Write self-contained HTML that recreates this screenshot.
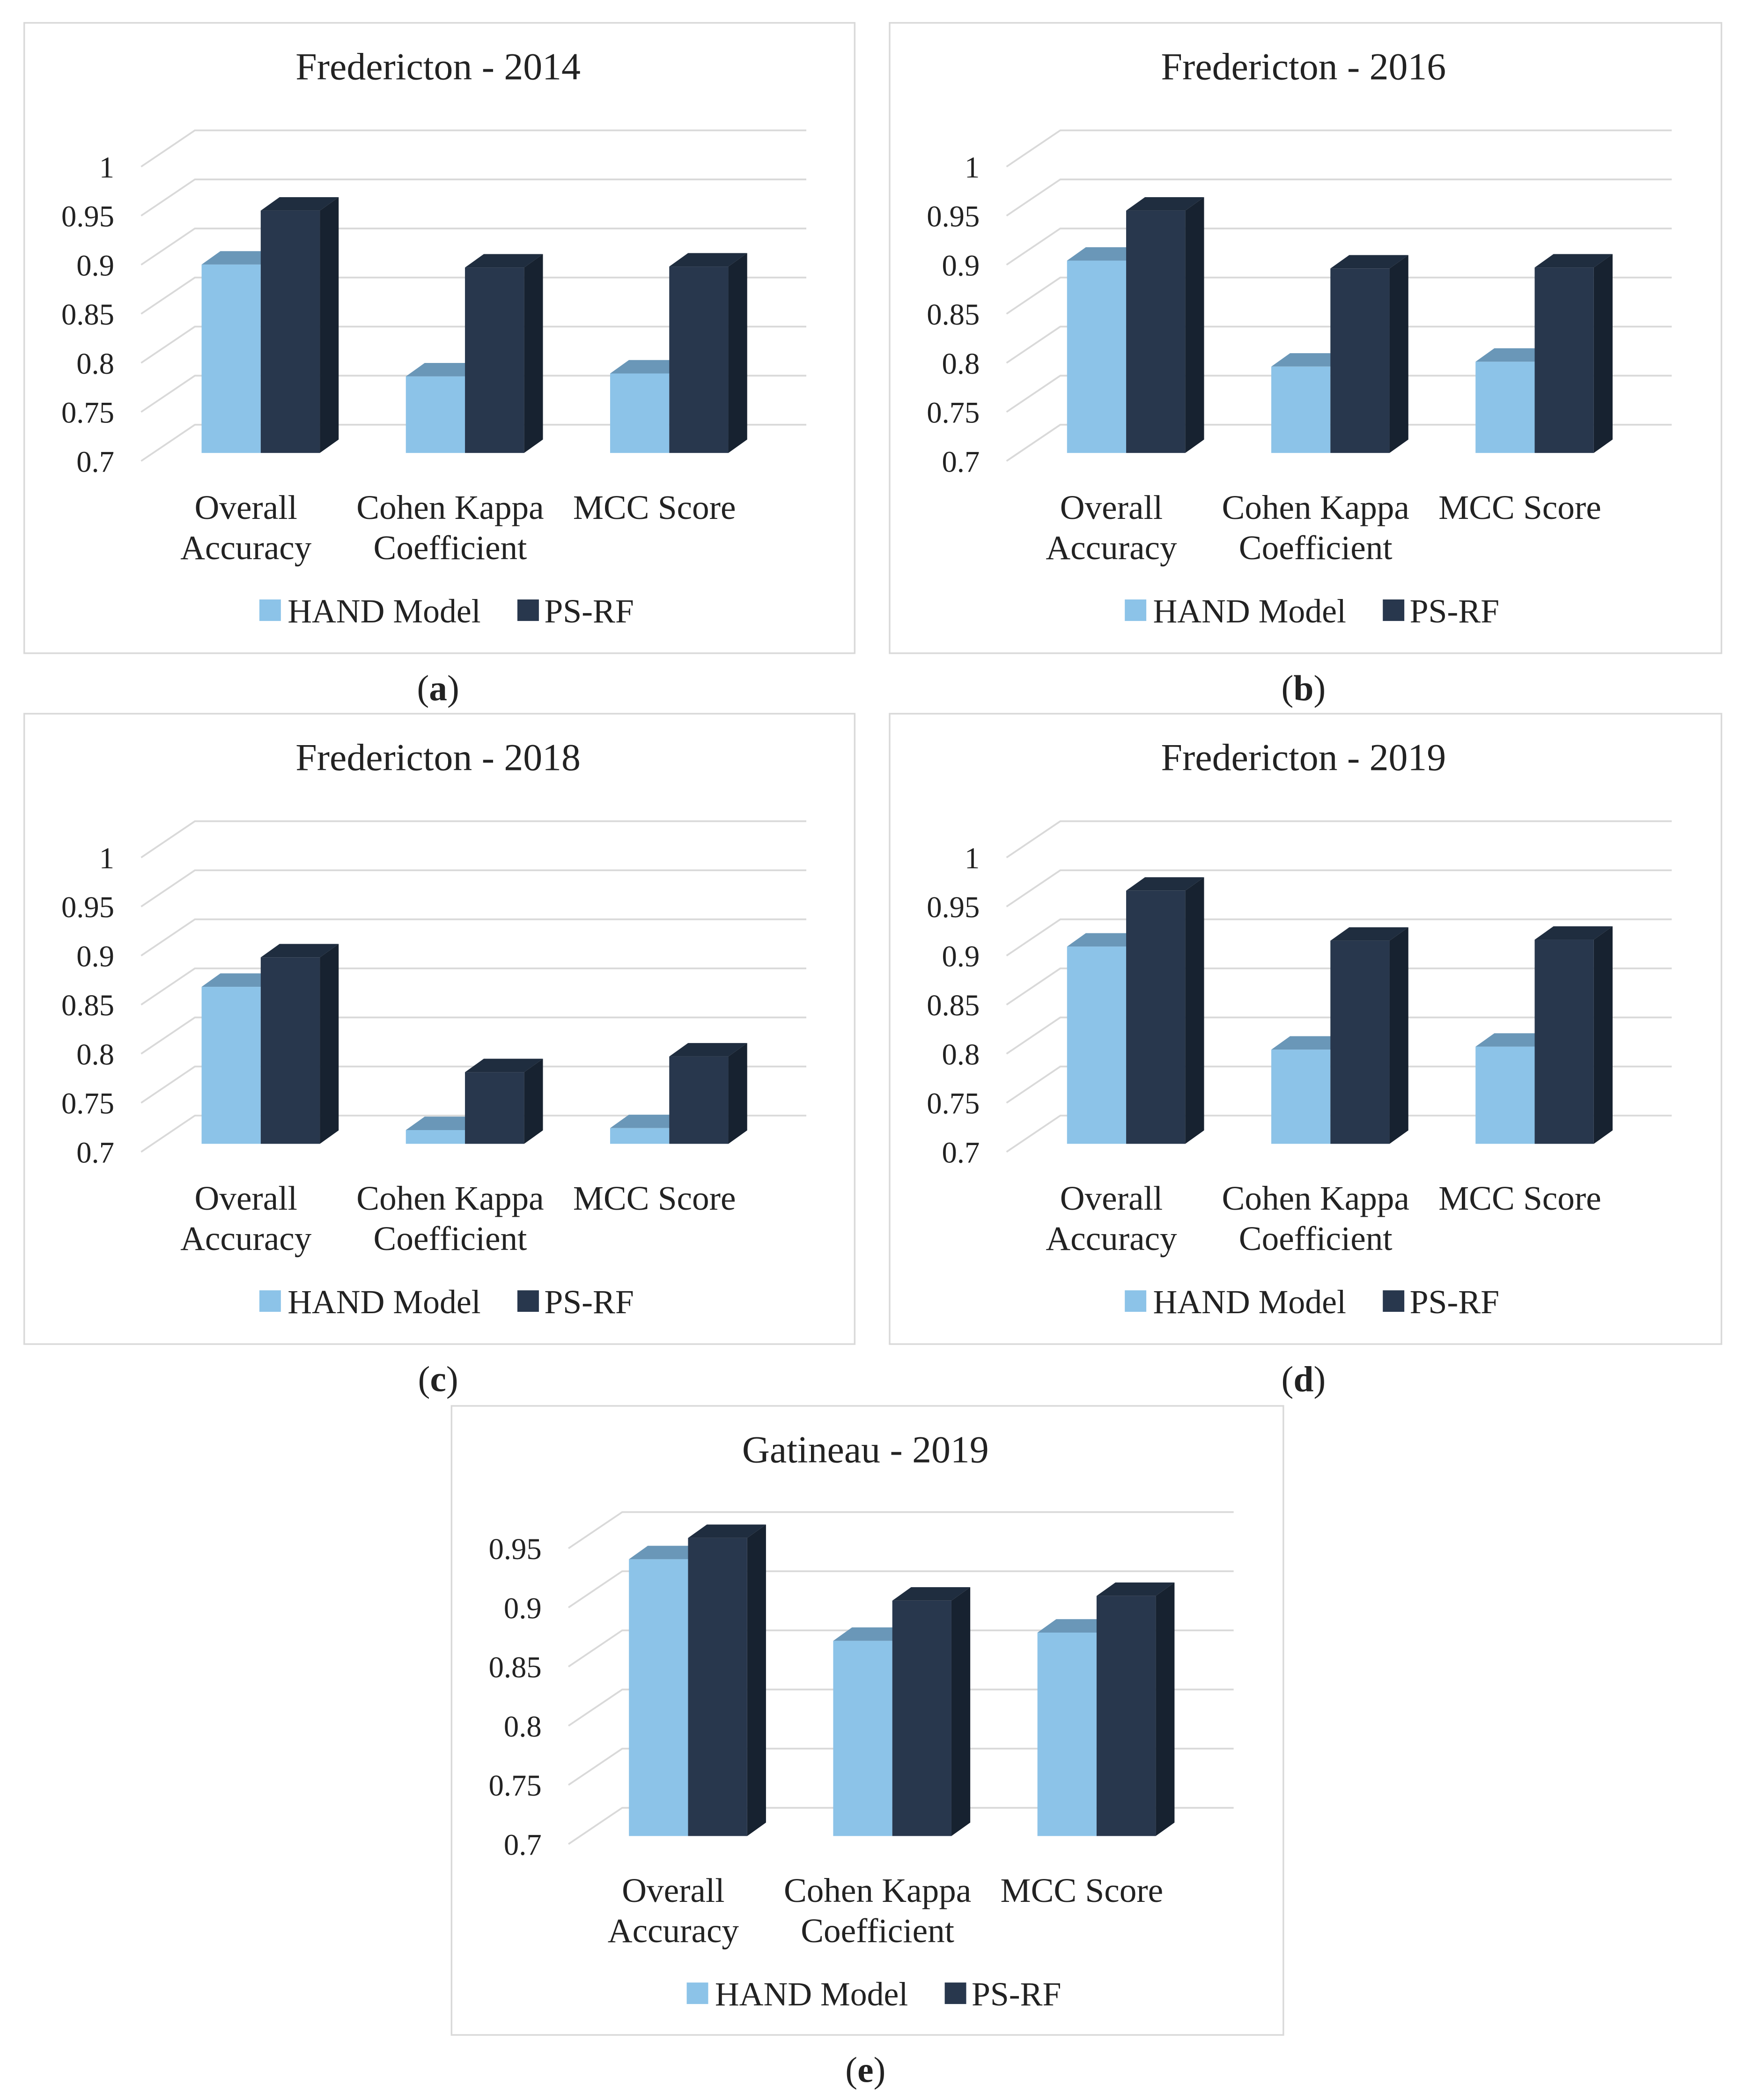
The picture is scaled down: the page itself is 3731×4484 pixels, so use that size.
<!DOCTYPE html>
<html><head><meta charset="utf-8">
<style>
html,body{margin:0;padding:0;background:#fff;}
svg{display:block;}
text{font-family:"Liberation Serif",serif;fill:#222;}
</style></head>
<body>
<svg id="fig" width="3731" height="4484" viewBox="0 0 1300 1562.4" xmlns="http://www.w3.org/2000/svg"></svg>
<script>
const categories = [["Overall","Accuracy"],["Cohen Kappa","Coefficient"],["MCC Score"]];
const seriesNames = ["HAND Model","PS-RF"];
const titles = ["Fredericton - 2014","Fredericton - 2016","Fredericton - 2018","Fredericton - 2019","Gatineau - 2019"];
const captions = ["a","b","c","d","e"];
const handA = [0.892, 0.778, 0.781];
const psrfA = [0.947, 0.889, 0.890];
const handB = [0.896, 0.788, 0.793];
const psrfB = [0.947, 0.888, 0.889];
const handC = [0.860, 0.714, 0.716];
const psrfC = [0.890, 0.773, 0.789];
const handD = [0.901, 0.796, 0.799];
const psrfD = [0.958, 0.907, 0.908];
const handE = [0.934, 0.865, 0.872];
const psrfE = [0.952, 0.899, 0.903];
const ticksFull = ["0.7","0.75","0.8","0.85","0.9","0.95","1"];
const ticksE = ["0.7","0.75","0.8","0.85","0.9","0.95"];

const NS = "http://www.w3.org/2000/svg";
const svg = document.getElementById('fig');
function el(tag, attrs, parent){
  const e = document.createElementNS(NS, tag);
  for (const k in attrs) e.setAttribute(k, attrs[k]);
  (parent||svg).appendChild(e);
  return e;
}
const panels = [
  {x:18, y:17, w:618, h:469, hand:handA, psrf:psrfA, ticks:ticksFull, scale:730, vmin:0.7},
  {x:662, y:17, w:619, h:469, hand:handB, psrf:psrfB, ticks:ticksFull, scale:730, vmin:0.7},
  {x:18, y:531, w:618, h:469, hand:handC, psrf:psrfC, ticks:ticksFull, scale:730, vmin:0.7},
  {x:662, y:531, w:619, h:469, hand:handD, psrf:psrfD, ticks:ticksFull, scale:730, vmin:0.7},
  {x:336, y:1046, w:619, h:468, hand:handE, psrf:psrfE, ticks:ticksE, scale:880, vmin:0.7}
];
const C = {light:'#8cc3e8', lightTop:'#6a97b8', dark:'#28374d', darkTop:'#1f2d3f', darkSide:'#172230', grid:'#d9d9d9'};

panels.forEach((p, i) => {
  const g = el('g', {});
  
  
  const frame = el('rect', {x:p.x, y:p.y, width:p.w, height:p.h, fill:'#fff', stroke:'#d9d9d9', 'stroke-width':1.2}, g);
  
  
  const floor = p.y + 320;
  const yv = v => floor - (v - p.vmin) * p.scale;
  const t = el('text', {x:p.x + 308, y:p.y + 42, 'text-anchor':'middle', 'font-size':28.5}, g);
  t.textContent = titles[i];
  
  
  p.ticks.forEach(tk => {
    const v = parseFloat(tk);
    const ly = yv(v) + 6;
    const gl = el('polyline', {points:(p.x+87)+','+ly+' '+(p.x+127)+','+(ly-27)+' '+(p.x+582)+','+(ly-27), fill:'none', stroke:C.grid, 'stroke-width':1.3}, g);
    
    
    const tl = el('text', {x:p.x+67, y:ly+8, 'text-anchor':'end', 'font-size':22.5}, g);
    tl.textContent = tk;
    
    
  });
  categories.forEach((cat, j) => {
    const cx = p.x + 176 + j*152;
    const bw = 44, sd = 14, td = 10;
    const hy = yv(p.hand[j]), dy = yv(p.psrf[j]);
    const ht = el('polygon', {points:(cx-bw)+','+hy+' '+(cx-bw+sd)+','+(hy-td)+' '+(cx+sd)+','+(hy-td)+' '+cx+','+hy, fill:C.lightTop}, g);
    
    
    const hb = el('rect', {x:cx-bw, y:hy, width:bw, height:floor-hy, fill:C.light}, g);
    
    
    const dt = el('polygon', {points:cx+','+dy+' '+(cx+sd)+','+(dy-td)+' '+(cx+bw+sd)+','+(dy-td)+' '+(cx+bw)+','+dy, fill:C.darkTop}, g);
    
    
    const ds = el('polygon', {points:(cx+bw)+','+dy+' '+(cx+bw+sd)+','+(dy-td)+' '+(cx+bw+sd)+','+(floor-td)+' '+(cx+bw)+','+floor, fill:C.darkSide}, g);
    
    
    const db = el('rect', {x:cx, y:dy, width:bw, height:floor-dy, fill:C.dark}, g);
    
    
    cat.forEach((line, k) => {
      const ct = el('text', {x:cx-11, y:p.y+369+k*30, 'text-anchor':'middle', 'font-size':25.5}, g);
      ct.textContent = line;
      
      
    });
  });
  const ly = p.y + 437;
  const ls1 = el('rect', {x:p.x+175, y:ly-8, width:16, height:16, fill:C.light}, g);
  
  
  const lt1 = el('text', {x:p.x+196, y:ly+9, 'font-size':25}, g);
  lt1.textContent = seriesNames[0];
  
  
  const ls2 = el('rect', {x:p.x+367, y:ly-8, width:16, height:16, fill:C.dark}, g);
  
  
  const lt2 = el('text', {x:p.x+387, y:ly+9, 'font-size':25}, g);
  lt2.textContent = seriesNames[1];
  
  
  const cap = el('text', {x:p.x+308, y:p.y+p.h+35, 'text-anchor':'middle', 'font-size':27}, svg);
  cap.innerHTML = '(<tspan font-weight="bold">' + captions[i] + '</tspan>)';
  
  
});
</script>
</body></html>
